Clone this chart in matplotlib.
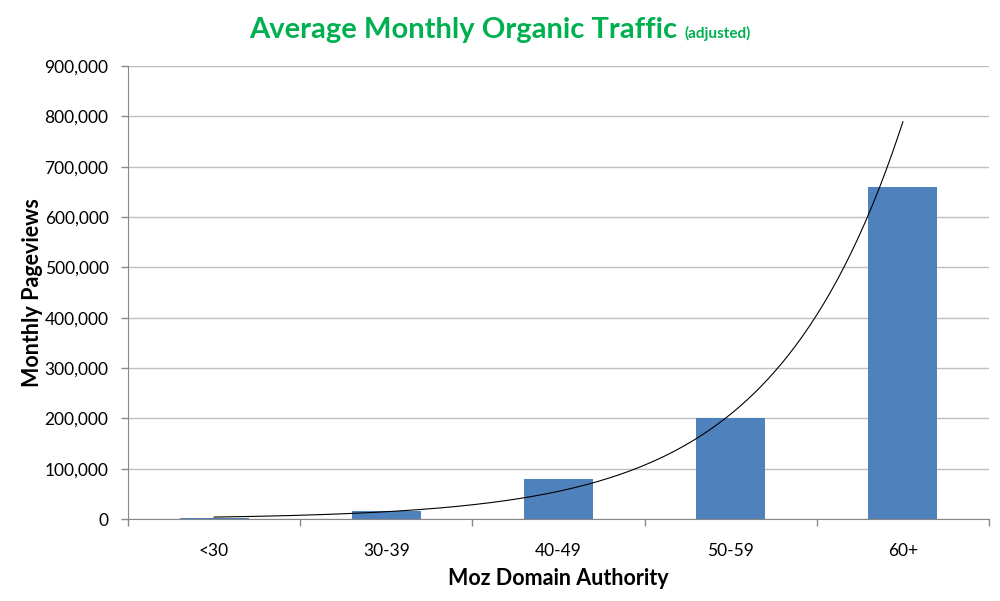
import numpy as np
import matplotlib
matplotlib.use('Agg')
import matplotlib.pyplot as plt
from matplotlib.ticker import FuncFormatter

plt.rcParams['font.family'] = ['Lato', 'DejaVu Sans']

categories = ['<30', '30-39', '40-49', '50-59', '60+']
pageviews = [3000, 16000, 80000, 200000, 660000]

x = np.arange(1, len(categories) + 1)

# exponential trendline (least squares on log values, like Excel)
slope, intercept = np.polyfit(x, np.log(pageviews), 1)
xt = np.linspace(x[0], x[-1], 200)
yt = np.exp(intercept + slope * xt)

fig = plt.figure(figsize=(10, 6.01), dpi=100)
ax = fig.add_axes([0.128, 0.1364, 0.861, 0.7536])

ax.bar(x, pageviews, width=0.4, color='#4F81BD', zorder=2)
ax.plot(xt, yt, color='black', linewidth=0.8, zorder=3)

ax.set_xlim(0.5, len(categories) + 0.5)
ax.set_ylim(0, 900000)
ax.set_yticks(np.arange(0, 900001, 100000))
ax.yaxis.set_major_formatter(FuncFormatter(lambda v, p: f'{int(v):,}'))
ax.grid(axis='y', color='#BFBFBF', linewidth=1, zorder=0)

ax.set_xticks(x)
ax.set_xticklabels(categories)
ax.set_xticks(np.arange(0.5, len(categories) + 1, 1), minor=True)
ax.tick_params(axis='x', which='major', length=0, pad=17, labelsize=12.5)
ax.tick_params(axis='x', which='minor', length=5, color='#888888', width=1)
ax.tick_params(axis='y', length=5, color='#888888', width=1, labelsize=12.5, pad=9)

for s in ['top', 'right']:
    ax.spines[s].set_visible(False)
for s in ['left', 'bottom']:
    ax.spines[s].set_color('#888888')

ax.set_xlabel('Moz Domain Authority', fontsize=15.5, fontweight='bold', labelpad=7)
ax.set_ylabel('Monthly Pageviews', fontsize=15.5, fontweight='bold', labelpad=1)

# title in two parts
t1 = fig.text(0.249, 0.936, 'Average Monthly Organic Traffic', color='#00B050',
              fontsize=21, fontweight='bold', ha='left', va='baseline')
fig.canvas.draw()
bb = t1.get_window_extent()
fig.text(bb.x1 / fig.bbox.width + 0.007, 0.936, '(adjusted)', color='#00B050',
         fontsize=11, fontweight='bold', ha='left', va='baseline')

fig.savefig('out.png', dpi=100)
